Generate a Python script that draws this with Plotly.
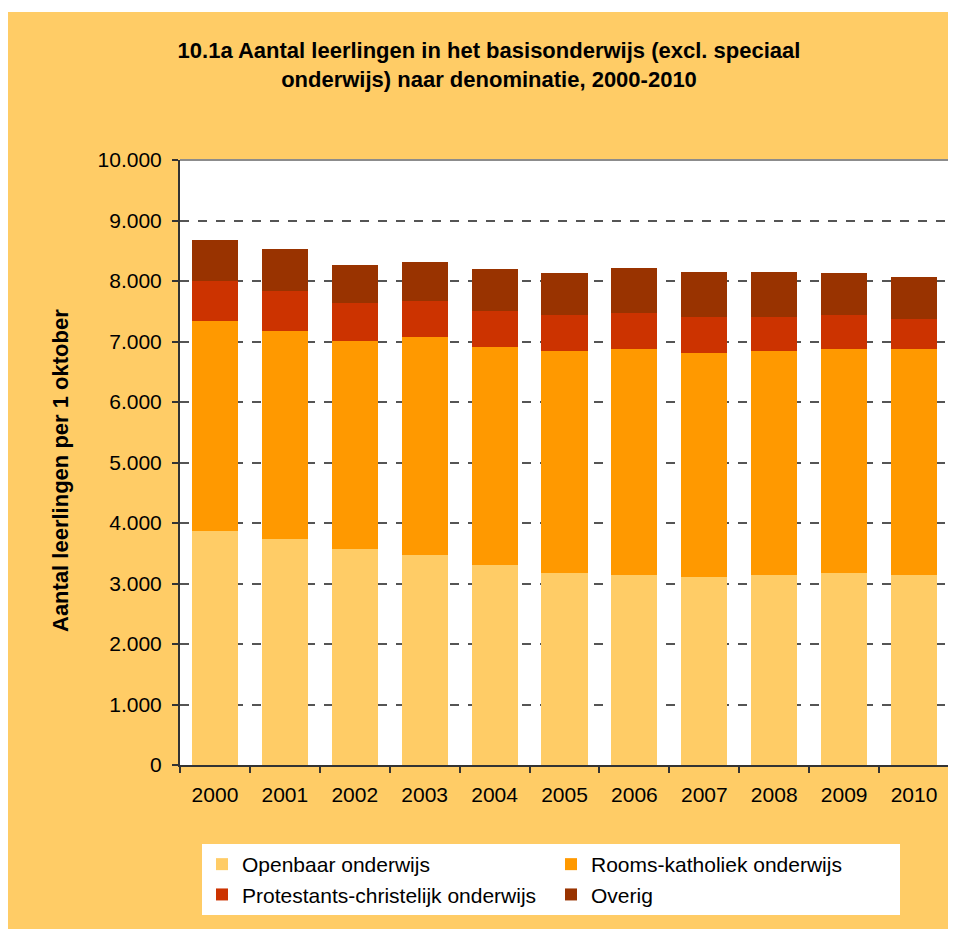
import plotly.graph_objects as go

years = ["2000", "2001", "2002", "2003", "2004", "2005", "2006", "2007", "2008", "2009", "2010"]
openbaar = [3868, 3736, 3570, 3471, 3306, 3174, 3140, 3107, 3140, 3174, 3140]
rooms_katholiek = [3476, 3443, 3438, 3603, 3603, 3669, 3736, 3703, 3703, 3702, 3736]
protestants = [656, 656, 628, 595, 595, 595, 595, 595, 562, 562, 496]
overig = [678, 694, 628, 645, 694, 694, 744, 744, 744, 694, 694]

series_names = ["Openbaar onderwijs", "Rooms-katholiek onderwijs",
                "Protestants-christelijk onderwijs", "Overig"]
series_values = [openbaar, rooms_katholiek, protestants, overig]
series_colors = ["#FFCC66", "#FF9900", "#CC3300", "#993300"]

y_tickvals = [0, 1000, 2000, 3000, 4000, 5000, 6000, 7000, 8000, 9000, 10000]
y_ticktext = ["0", "1.000", "2.000", "3.000", "4.000", "5.000", "6.000",
              "7.000", "8.000", "9.000", "10.000"]

title_text = ("10.1a Aantal leerlingen in het basisonderwijs (excl. speciaal<br>"
              "onderwijs) naar denominatie, 2000-2010")
ylabel_text = "Aantal leerlingen per 1 oktober"

# page has an 8px body margin; figure coordinates = page coordinates - 8
W, H = 948, 921
L, R, T, B = 172, 941, 152, 757
pw, ph = R - L, B - T


def px(x):
    return (x - L) / pw


def py(y):
    return (B - y) / ph


fig = go.Figure()
for name, vals, col in zip(series_names, series_values, series_colors):
    fig.add_trace(go.Bar(x=years, y=vals, name=name, marker_color=col,
                         marker_line_width=0))

font_family = "Liberation Sans, Arial, sans-serif"
orange = "#FFCC66"

fig.update_layout(
    width=W, height=H,
    margin=dict(l=L, r=W - R, t=T, b=H - B, autoexpand=False),
    paper_bgcolor=orange,
    plot_bgcolor="white",
    barmode="stack",
    bargap=0.34,
    font=dict(family=font_family, color="black", size=21),
    title=dict(text="<b>" + title_text + "</b>", x=(489 - 8) / W, xanchor="center",
               y=1 - 50 / H, yanchor="top", yref="container",
               font=dict(size=22, family=font_family, color="black")),
    showlegend=True,
    legend=dict(orientation="h", x=px(194), xanchor="left", y=py(836), yanchor="top",
                bgcolor="white", borderwidth=0, traceorder="normal",
                entrywidth=304, entrywidthmode="pixels",
                font=dict(size=21, family=font_family, color="black"),
                itemwidth=30),
    xaxis=dict(showline=True, linecolor="#333333", linewidth=2,
               ticks="outside", tickson="boundaries", ticklen=6, tickcolor="#333333",
               tickwidth=1.5, ticklabelstandoff=10,
               tickfont=dict(size=21)),
    yaxis=dict(range=[0, 10000], tickvals=y_tickvals, ticktext=y_ticktext,
               showline=True, linecolor="#333333", linewidth=2,
               ticks="outside", ticklen=6, tickcolor="#333333", tickwidth=1.5,
               ticklabelstandoff=6,
               showgrid=True, gridcolor="#555555", gridwidth=1.5, griddash="dash",
               zeroline=False, tickfont=dict(size=21)),
    shapes=[
        # white strip above the orange chart area
        dict(type="rect", xref="paper", yref="paper", x0=px(0), x1=px(W),
             y0=py(4), y1=py(0), fillcolor="white", line_width=0, layer="above"),
        # plot border (top/right gray)
        dict(type="line", xref="paper", yref="paper", x0=0, x1=1, y0=1, y1=1,
             line=dict(color="#8C8C8C", width=2), layer="above"),
        dict(type="line", xref="paper", yref="paper", x0=1, x1=1, y0=0, y1=1,
             line=dict(color="#8C8C8C", width=2), layer="above"),
    ],
    annotations=[
        dict(text="<b>" + ylabel_text + "</b>", xref="paper", yref="paper",
             x=px(52), y=py(462), textangle=-90, showarrow=False,
             xanchor="center", yanchor="middle",
             font=dict(size=22, family=font_family, color="black")),
    ],
)

fig.write_html("out.html")
